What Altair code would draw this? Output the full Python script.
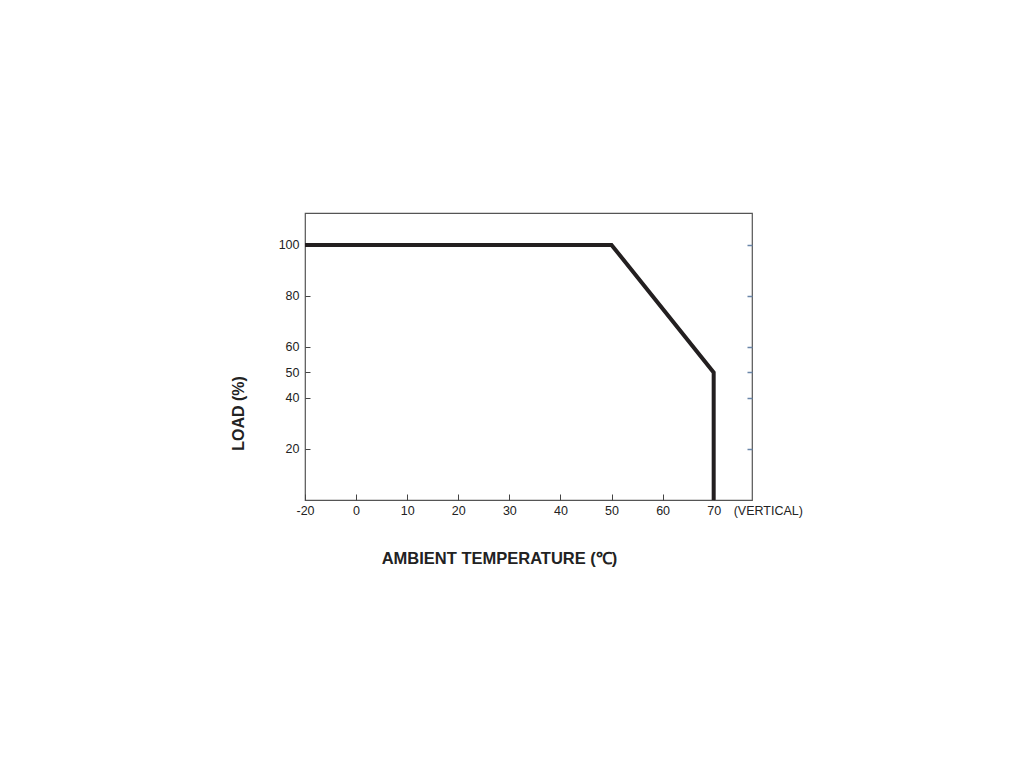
import altair as alt
import pandas as pd

# Derating curve values
temps = [-20, 50, 70, 70]
loads = [100, 100, 50, 0]

x_ticks = [-20, 0, 10, 20, 30, 40, 50, 60, 70]
y_ticks = [20, 40, 50, 60, 80, 100]

df = pd.DataFrame({"temp": temps, "load": loads})
note_df = pd.DataFrame({"temp": [70], "load": [0], "note": ["(VERTICAL)"]})

FONT = "Liberation Sans, Arial, Helvetica, sans-serif"
W, H = 447, 287

# x axis has a break: -20 sits one division left of 0
xscale = alt.Scale(domain=[-20, 0, 77.5], range=[0, W * 10 / 87.5, W])
yscale = alt.Scale(domain=[0, 112.5], nice=False, zero=False)

x_enc = alt.X("temp:Q", scale=xscale,
              axis=alt.Axis(values=x_ticks, title="AMBIENT TEMPERATURE (℃)",
                            orient="bottom", offset=-6, tickSize=6,
                            tickColor="#444", domain=False, grid=False,
                            labelExpr="datum.value + ''",
                            labelFont=FONT, labelFontSize=12.5, labelColor="#222",
                            labelPadding=4, labelFlush=False,
                            titleFont=FONT, titleFontSize=16.5, titleFontWeight="bold",
                            titleColor="#222", titleX=194, titleY=64,
                            titleBaseline="middle", titleAnchor="middle"))

line = alt.Chart(df).mark_line(
    color="#231f20", strokeWidth=4, strokeJoin="miter", strokeCap="butt"
).encode(
    x=x_enc,
    y=alt.Y("load:Q", scale=yscale,
            axis=alt.Axis(values=y_ticks, title="LOAD (%)", orient="left",
                          offset=-5, tickSize=5, tickColor="#444",
                          domain=False, grid=False,
                          labelFont=FONT, labelFontSize=12.5, labelColor="#222",
                          labelPadding=6, labelFlush=False,
                          titleFont=FONT, titleFontSize=16, titleFontWeight="bold",
                          titleColor="#222", titleX=-72, titleY=200,
                          titleBaseline="middle", titleAnchor="middle")),
)

right_ticks = alt.Chart(df).mark_line(opacity=0).encode(
    x=x_enc,
    y=alt.Y("load:Q", scale=yscale,
            axis=alt.Axis(values=y_ticks, title=None, orient="right",
                          offset=-5, tickSize=5, tickColor="#6a86a8",
                          tickWidth=1.5, domain=False, grid=False, labels=False)),
)

note = alt.Chart(note_df).mark_text(
    align="left", baseline="middle", dx=20, dy=11,
    font=FONT, fontSize=12.5, color="#222"
).encode(
    x=x_enc,
    y=alt.Y("load:Q", scale=yscale, axis=None),
    text="note:N",
)

chart = alt.layer(line, right_ticks, note).resolve_axis(y="independent").properties(
    width=W, height=H,
    background="white",
    autosize=alt.AutoSizeParams(type="none"),
    padding={"left": 297, "top": 205, "right": 250, "bottom": 250},
).configure_view(
    stroke="#555", strokeWidth=1.2
)

chart.save("out.html", embed_options={"renderer": "svg", "actions": False})
